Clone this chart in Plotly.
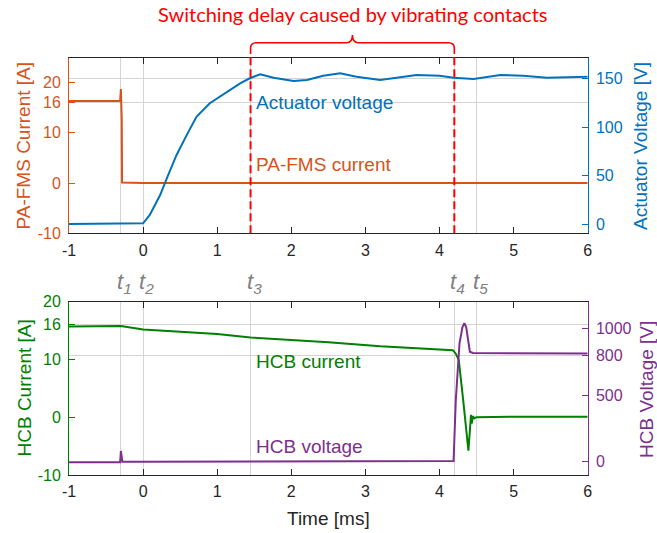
import plotly.graph_objects as go

W, H = 657, 533

# ---------------- data ----------------
# Top panel: PA-FMS current [A]
pa_t = [-1.0, -0.6, -0.31, -0.300, -0.296, -0.292, -0.288, -0.284, 0.0, 1.0, 2.0, 3.0, 4.0, 5.0, 6.0]
pa_i = [16.3, 16.3, 16.3, 18.7, 16.4, 12.9, 12.5, 0.1, 0.0, 0.0, 0.0, 0.0, 0.0, 0.0, 0.0]

# Top panel: actuator voltage [V]
act_t = [-1.0, -0.5, 0.0, 0.09, 0.23, 0.32, 0.45, 0.59, 0.72, 0.90, 1.13, 1.31, 1.44, 1.58,
         1.76, 2.03, 2.21, 2.43, 2.66, 2.88, 3.20, 3.42, 3.69, 4.00, 4.19, 4.46, 4.82, 5.13, 5.45, 6.0]
act_v = [0.0, 0.0, 0.7, 9.3, 29.9, 47.0, 71.0, 92.0, 110.7, 124.6, 136.5, 145.2, 150.4, 154.5,
         151.0, 147.6, 148.6, 153.0, 155.5, 152.0, 148.6, 151.0, 153.8, 153.0, 151.0, 149.6, 153.8, 153.0, 151.0, 152.0]

# Bottom panel: HCB current [A]
hcb_t = [-1.0, -0.3, 0.0, 0.5, 1.0, 1.45, 2.0, 2.5, 3.2, 3.5, 4.0, 4.18, 4.22, 4.26, 4.32, 4.39,
         4.425, 4.435, 4.45, 4.47, 4.5, 5.0, 6.0]
hcb_i = [15.7, 15.8, 15.2, 14.8, 14.4, 13.8, 13.4, 13.0, 12.3, 12.1, 11.8, 11.6, 11.0, 9.9, 2.9, -5.8,
         0.4, -1.1, 0.2, -0.2, 0.0, 0.1, 0.1]

# Bottom panel: HCB voltage [V]
hcbv_t = [-1.0, -0.31, -0.30, -0.29, -0.28, 0.0, 1.0, 2.0, 3.0, 4.0, 4.19, 4.22, 4.27, 4.31,
          4.335, 4.36, 4.38, 4.41, 4.45, 5.0, 6.0]
hcbv_v = [-5.0, -5.0, 80.0, 10.0, 0.0, 0.0, 0.0, 0.0, 0.0, 0.0, 5.0, 463.0, 888.0, 1010.0,
          1038.0, 1010.0, 938.0, 825.0, 815.0, 812.0, 812.0]

# Event times and labels
t_events = [-0.3, 0.0, 1.45, 4.2, 4.5]
t_labels = ["1", "2", "3", "4", "5"]
delay_start, delay_end = 1.45, 4.2

x_ticks = [-1, 0, 1, 2, 3, 4, 5, 6]
pa_ticks = [-10, 0, 10, 16, 20]
act_ticks = [0, 50, 100, 150]
hcb_ticks = [-10, 0, 10, 16, 20]
hcbv_ticks = [0, 500, 800, 1000]

title_text = "Switching delay caused by vibrating contacts"

# ---------------- style ----------------
BLUE = "#0072BD"
ORANGE = "#D95319"
GREEN = "#008000"
PURPLE = "#7E2F8E"
RED = "#FF0000"
AX = "#262626"
GRID = "#D4D4D4"
FONT = "Liberation Sans, Arial, sans-serif"

L, R = 69 / W, 587.7 / W
top_dom = [1 - 233.3 / H, 1 - 58.3 / H]
bot_dom = [1 - 475.0 / H, 1 - 301.7 / H]

fig = go.Figure()
fig.add_trace(go.Scatter(x=act_t, y=act_v, xaxis="x", yaxis="y2", mode="lines",
                         line=dict(color=BLUE, width=2), showlegend=False))
fig.add_trace(go.Scatter(x=pa_t, y=pa_i, xaxis="x", yaxis="y", mode="lines",
                         line=dict(color=ORANGE, width=2), showlegend=False))
fig.add_trace(go.Scatter(x=hcb_t, y=hcb_i, xaxis="x2", yaxis="y3", mode="lines",
                         line=dict(color=GREEN, width=2), showlegend=False))
fig.add_trace(go.Scatter(x=hcbv_t, y=hcbv_v, xaxis="x2", yaxis="y4", mode="lines",
                         line=dict(color=PURPLE, width=2), showlegend=False))

tickfont = dict(family=FONT, size=16)


def xax(anchor):
    return dict(domain=[L, R], anchor=anchor, range=[-1, 6], tickvals=x_ticks,
                ticktext=[str(v) for v in x_ticks],
                ticks="inside", ticklen=6, tickcolor=AX, showline=True, linecolor=AX,
                linewidth=1, mirror="ticks", showgrid=False, zeroline=False, automargin=False,
                tickfont=dict(tickfont, color=AX), ticklabelstandoff=2,
                minor=dict(tickvals=t_events, showgrid=True, gridcolor=GRID, gridwidth=1, ticks=""))


def yax(dom, rng, ticks, color, grid_vals, side="left", overlay=None, anchor=None):
    d = dict(domain=dom, range=rng, tickvals=ticks, ticktext=[str(v) for v in ticks],
             ticks="inside", ticklen=6, tickcolor=color,
             showline=True, linecolor=color, linewidth=1, showgrid=False, zeroline=False,
             automargin=False, side=side, tickfont=dict(tickfont, color=color), ticklabelstandoff=4,
             minor=dict(tickvals=grid_vals, showgrid=True, gridcolor=GRID, gridwidth=1, ticks=""))
    if overlay:
        d["overlaying"] = overlay
    if anchor:
        d["anchor"] = anchor
    return d


fig.update_layout(
    width=W, height=H, margin=dict(l=0, r=0, t=0, b=0, autoexpand=False),
    paper_bgcolor="white", plot_bgcolor="white",
    font=dict(family=FONT),
    xaxis=xax("y"),
    xaxis2=xax("y3"),
    yaxis=yax(top_dom, [-10, 24.8], pa_ticks, ORANGE, [16], anchor="x"),
    yaxis2=yax(top_dom, [-9.6, 171], act_ticks, BLUE, [150], side="right", overlay="y", anchor="x"),
    yaxis3=yax(bot_dom, [-10, 20], hcb_ticks, GREEN, [16], anchor="x2"),
    yaxis4=yax(bot_dom, [-100, 1200], hcbv_ticks, PURPLE, [800], side="right", overlay="y3", anchor="x2"),
)

# ---------------- annotations ----------------
ann = []
C = dict(xanchor="center", yanchor="middle", showarrow=False)
# main red title
ann.append(dict(text=title_text, x=353 / W, y=1 - 14 / H, xref="paper", yref="paper",
                font=dict(family="Lato", size=20, color=RED), **C))
# axis titles
ann.append(dict(text="PA-FMS Current [A]", x=23.5 / W, y=1 - 146 / H, xref="paper", yref="paper",
                textangle=-90, font=dict(family=FONT, size=19, color=ORANGE), **C))
ann.append(dict(text="Actuator Voltage [V]", x=641 / W, y=1 - 146 / H, xref="paper", yref="paper",
                textangle=-90, font=dict(family=FONT, size=19, color=BLUE), **C))
ann.append(dict(text="HCB Current [A]", x=23.5 / W, y=1 - 388 / H, xref="paper", yref="paper",
                textangle=-90, font=dict(family=FONT, size=19, color=GREEN), **C))
ann.append(dict(text="HCB Voltage [V]", x=646 / W, y=1 - 390 / H, xref="paper", yref="paper",
                textangle=-90, font=dict(family=FONT, size=19, color=PURPLE), **C))
ann.append(dict(text="Time [ms]", x=2.5, y=1 - 518 / H, xref="x2", yref="paper",
                font=dict(family=FONT, size=19, color=AX), **C))
# series labels
S = dict(xanchor="left", yanchor="middle", xshift=3, showarrow=False)
ann.append(dict(text="Actuator voltage", x=delay_start, y=16, xref="x", yref="y",
                font=dict(family=FONT, size=19, color=BLUE), **S))
ann.append(dict(text="PA-FMS current", x=delay_start, y=3.7, xref="x", yref="y",
                font=dict(family=FONT, size=19, color=ORANGE), **S))
ann.append(dict(text="HCB current", x=delay_start, y=9.6, xref="x2", yref="y3",
                font=dict(family=FONT, size=19, color=GREEN), **S))
ann.append(dict(text="HCB voltage", x=delay_start, y=-5.0, xref="x2", yref="y3",
                font=dict(family=FONT, size=19, color=PURPLE), **S))
# event labels t1..t5
for tv, lab in zip(t_events, t_labels):
    ann.append(dict(text="<i>t</i><sub><i>" + lab + "</i></sub>", x=tv, y=1 - 299 / H,
                    xref="x2", yref="paper", xanchor="left", yanchor="bottom", xshift=-6,
                    showarrow=False, font=dict(family=FONT, size=22, color="#808080")))
fig.update_layout(annotations=ann)

# ---------------- shapes: red dashed delay lines + brace ----------------
y_top_line = 1 - 54 / H
for xv in (delay_start, delay_end):
    fig.add_shape(type="line", x0=xv, x1=xv, xref="x", yref="paper",
                  y0=top_dom[0], y1=y_top_line, line=dict(color=RED, width=2, dash="8px,4px"))

ypx = lambda p: 1 - p / H
r = 0.08
mid = (delay_start + delay_end) / 2
yb, yh, yc = ypx(54), ypx(42.7), ypx(35)
path = (f"M {delay_start},{yb} L {delay_start},{ypx(48)} "
        f"Q {delay_start},{yh} {delay_start + r},{yh} "
        f"L {mid - r},{yh} Q {mid},{yh} {mid},{yc} "
        f"Q {mid},{yh} {mid + r},{yh} "
        f"L {delay_end - r},{yh} Q {delay_end},{yh} {delay_end},{ypx(48)} "
        f"L {delay_end},{yb}")
fig.add_shape(type="path", path=path, xref="x", yref="paper", line=dict(color=RED, width=1.6))

fig.write_html("out.html")
